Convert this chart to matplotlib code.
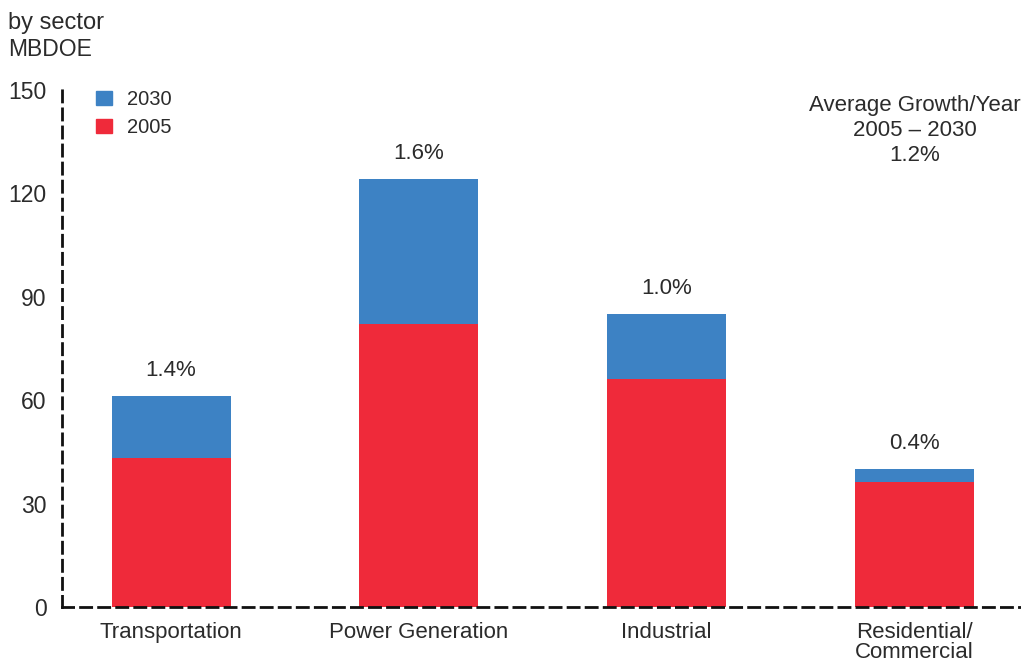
import matplotlib
matplotlib.use("Agg")
import matplotlib.pyplot as plt
from matplotlib.patches import Patch

plt.rcParams['font.family'] = ['Liberation Sans', 'DejaVu Sans']

categories = ["Transportation", "Power Generation", "Industrial", "Residential/\nCommercial"]
values_2005 = [43.3, 82.2, 66.1, 36.3]
values_2030 = [61.2, 124.1, 84.9, 40.0]
growth_labels = ["1.4%", "1.6%", "1.0%", "0.4%"]
yticks = [0, 30, 60, 90, 120, 150]

red = "#ef2a3a"
blue = "#3d82c4"
txt = "#2b2b2b"

fig = plt.figure(figsize=(10.21, 6.62), dpi=100)
ax = fig.add_axes([62/1021, 55/662, 1 - 62/1021, (607-90)/662])

x = list(range(len(categories)))
inc = [b - a for a, b in zip(values_2005, values_2030)]
ax.bar(x, values_2005, width=0.48, color=red, zorder=2)
ax.bar(x, inc, bottom=values_2005, width=0.48, color=blue, zorder=2)

for xi, top, lab in zip(x, values_2030, growth_labels):
    ax.annotate(lab, (xi, top), xytext=(0, 11), textcoords="offset points",
                ha="center", va="bottom", fontsize=16, color=txt)

ax.set_xlim(-0.44, 3.43)
ax.set_ylim(0, 150)
ax.set_yticks(yticks)
ax.set_yticklabels([str(t) for t in yticks], fontsize=16.5, color=txt)
ax.set_xticks(x)
ax.set_xticklabels(categories, fontsize=16, color=txt, linespacing=0.92)
ax.tick_params(axis="both", length=0)
ax.tick_params(axis="y", pad=11)
ax.tick_params(axis="x", pad=11)

for s in ["top", "right"]:
    ax.spines[s].set_visible(False)
for s in ["left", "bottom"]:
    ax.spines[s].set_linestyle((0, (4, 2.5)))
    ax.spines[s].set_linewidth(2)
    ax.spines[s].set_color("#111111")
    ax.spines[s].set_zorder(3)

handles = [Patch(color=blue, label="2030"), Patch(color=red, label="2005")]
ax.legend(handles=handles, loc="upper left", bbox_to_anchor=(0.017, 1.035),
          frameon=False, fontsize=14.5, handlelength=0.75, handleheight=0.75,
          handletextpad=0.75, labelspacing=0.45, labelcolor=txt)

ax.text(3, 138.3, "Average Growth/Year\n2005 \u2013 2030\n1.2%", ha="center", va="center",
        fontsize=16, color=txt, linespacing=1.25, transform=ax.transData)

fig.text(8/1021, 1 - 23/662, "by sector", fontsize=17, color=txt, va="center", ha="left")
fig.text(8/1021, 1 - 49/662, "MBDOE", fontsize=16.5, color=txt, va="center", ha="left")

fig.savefig("out.png", dpi=100)
